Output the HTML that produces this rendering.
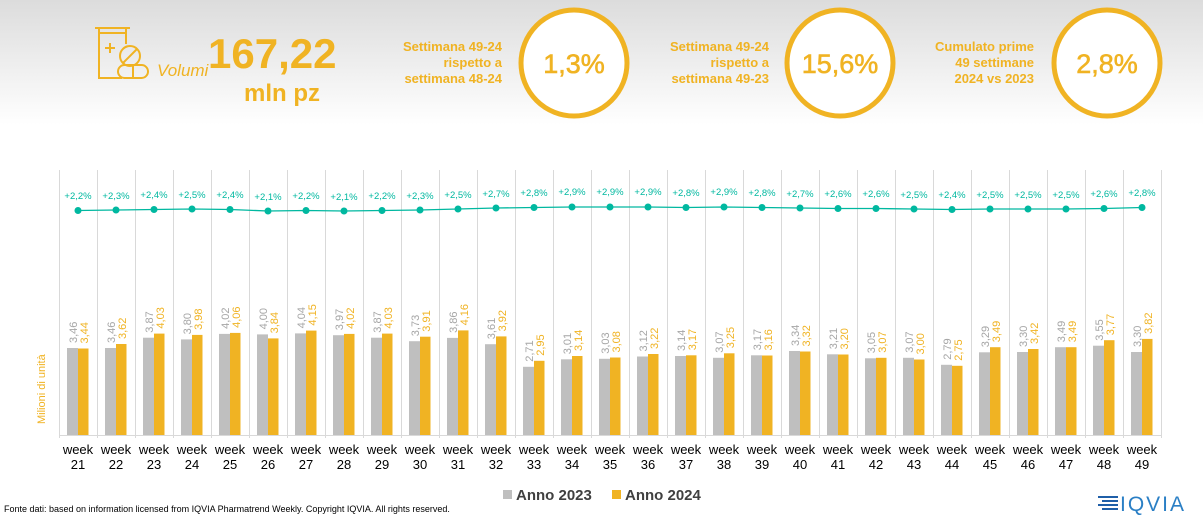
<!DOCTYPE html>
<html><head><meta charset="utf-8"><style>
body{margin:0;width:1203px;height:517px;overflow:hidden;background:#fff;font-family:"Liberation Sans",sans-serif}
</style></head><body>
<svg width="1203" height="517" xmlns="http://www.w3.org/2000/svg" font-family="Liberation Sans, sans-serif">
<defs><linearGradient id="bg" x1="0" y1="0" x2="0" y2="1"><stop offset="0" stop-color="#dcdcdc"/><stop offset="1" stop-color="#ffffff"/></linearGradient></defs>
<rect x="0" y="0" width="1203" height="125" fill="url(#bg)"/>
<g fill="none" stroke="#f0b323" stroke-width="2">
<path d="M95 28 H130 M99 28 V78 H122 M126 28 V44 M99 33 H126"/>
<path d="M105 48 H115 M110 43 V53"/>
<circle cx="130" cy="56" r="10"/><path d="M123 63 L137 49"/>
<rect x="118" y="65" width="30" height="13" rx="6.5"/><path d="M133 65 V78"/>
</g>
<text x="157" y="76" font-size="17" font-style="italic" fill="#f0b323">Volumi</text>
<text x="208" y="68" font-size="42" font-weight="bold" fill="#f0b323">167,22</text>
<text x="282" y="101" font-size="24" font-weight="bold" fill="#f0b323" text-anchor="middle">mln pz</text>
<g font-size="13" font-weight="bold" fill="#f0b323" text-anchor="end">
<text x="502" y="51">Settimana 49-24</text><text x="502" y="67">rispetto a</text><text x="502" y="83">settimana 48-24</text>
<text x="769" y="51">Settimana 49-24</text><text x="769" y="67">rispetto a</text><text x="769" y="83">settimana 49-23</text>
<text x="1034" y="51">Cumulato prime</text><text x="1034" y="67">49 settimane</text><text x="1034" y="83">2024 vs 2023</text>
</g>
<g fill="#fff" stroke="#f0b323" stroke-width="5">
<circle cx="574" cy="63" r="53"/><circle cx="840" cy="63" r="53"/><circle cx="1107" cy="63" r="53"/>
</g>
<g font-size="27" fill="#f0b323" text-anchor="middle" stroke="#f0b323" stroke-width="0.6">
<text x="574" y="73">1,3%</text><text x="840" y="73">15,6%</text><text x="1107" y="73">2,8%</text>
</g>
<g stroke="#d9d9d9" stroke-width="1">
<path d="M59.5 170V438M97.5 170V438M135.5 170V438M173.5 170V438M211.5 170V438M249.5 170V438M287.5 170V438M325.5 170V438M363.5 170V438M401.5 170V438M439.5 170V438M477.5 170V438M515.5 170V438M553.5 170V438M591.5 170V438M629.5 170V438M667.5 170V438M705.5 170V438M743.5 170V438M781.5 170V438M819.5 170V438M857.5 170V438M895.5 170V438M933.5 170V438M971.5 170V438M1009.5 170V438M1047.5 170V438M1085.5 170V438M1123.5 170V438M1161.5 170V438"/>
<path d="M59 435.5H1161"/>
</g>
<g fill="#bfbfbf">
<rect x="67" y="348" width="11" height="87"/><rect x="105" y="348" width="11" height="87"/><rect x="143" y="337.7" width="11" height="97.3"/><rect x="181" y="339.4" width="11" height="95.6"/><rect x="219" y="333.9" width="11" height="101.1"/><rect x="257" y="334.4" width="11" height="100.6"/><rect x="295" y="333.4" width="11" height="101.6"/><rect x="333" y="335.2" width="11" height="99.8"/><rect x="371" y="337.7" width="11" height="97.3"/><rect x="409" y="341.2" width="11" height="93.8"/><rect x="447" y="337.9" width="11" height="97.1"/><rect x="485" y="344.2" width="11" height="90.8"/><rect x="523" y="366.8" width="11" height="68.2"/><rect x="561" y="359.3" width="11" height="75.7"/><rect x="599" y="358.8" width="11" height="76.2"/><rect x="637" y="356.5" width="11" height="78.5"/><rect x="675" y="356" width="11" height="79"/><rect x="713" y="357.8" width="11" height="77.2"/><rect x="751" y="355.3" width="11" height="79.7"/><rect x="789" y="351" width="11" height="84"/><rect x="827" y="354.3" width="11" height="80.7"/><rect x="865" y="358.3" width="11" height="76.7"/><rect x="903" y="357.8" width="11" height="77.2"/><rect x="941" y="364.8" width="11" height="70.2"/><rect x="979" y="352.3" width="11" height="82.7"/><rect x="1017" y="352" width="11" height="83"/><rect x="1055" y="347.2" width="11" height="87.8"/><rect x="1093" y="345.7" width="11" height="89.3"/><rect x="1131" y="352" width="11" height="83"/>
</g>
<g fill="#f0b323">
<rect x="78" y="348.5" width="10.5" height="86.5"/><rect x="116" y="344" width="10.5" height="91"/><rect x="154" y="333.6" width="10.5" height="101.4"/><rect x="192" y="334.9" width="10.5" height="100.1"/><rect x="230" y="332.9" width="10.5" height="102.1"/><rect x="268" y="338.4" width="10.5" height="96.6"/><rect x="306" y="330.6" width="10.5" height="104.4"/><rect x="344" y="333.9" width="10.5" height="101.1"/><rect x="382" y="333.6" width="10.5" height="101.4"/><rect x="420" y="336.7" width="10.5" height="98.3"/><rect x="458" y="330.4" width="10.5" height="104.6"/><rect x="496" y="336.4" width="10.5" height="98.6"/><rect x="534" y="360.8" width="10.5" height="74.2"/><rect x="572" y="356" width="10.5" height="79"/><rect x="610" y="357.5" width="10.5" height="77.5"/><rect x="648" y="354" width="10.5" height="81"/><rect x="686" y="355.3" width="10.5" height="79.7"/><rect x="724" y="353.3" width="10.5" height="81.7"/><rect x="762" y="355.5" width="10.5" height="79.5"/><rect x="800" y="351.5" width="10.5" height="83.5"/><rect x="838" y="354.5" width="10.5" height="80.5"/><rect x="876" y="357.8" width="10.5" height="77.2"/><rect x="914" y="359.5" width="10.5" height="75.5"/><rect x="952" y="365.8" width="10.5" height="69.2"/><rect x="990" y="347.2" width="10.5" height="87.8"/><rect x="1028" y="349" width="10.5" height="86"/><rect x="1066" y="347.2" width="10.5" height="87.8"/><rect x="1104" y="340.2" width="10.5" height="94.8"/><rect x="1142" y="338.9" width="10.5" height="96.1"/>
</g>
<g font-size="11" fill="#a6a6a6">
<text transform="translate(77,343) rotate(-90)">3,46</text><text transform="translate(115,343) rotate(-90)">3,46</text><text transform="translate(153,332.7) rotate(-90)">3,87</text><text transform="translate(191,334.4) rotate(-90)">3,80</text><text transform="translate(229,328.9) rotate(-90)">4,02</text><text transform="translate(267,329.4) rotate(-90)">4,00</text><text transform="translate(305,328.4) rotate(-90)">4,04</text><text transform="translate(343,330.2) rotate(-90)">3,97</text><text transform="translate(381,332.7) rotate(-90)">3,87</text><text transform="translate(419,336.2) rotate(-90)">3,73</text><text transform="translate(457,332.9) rotate(-90)">3,86</text><text transform="translate(495,339.2) rotate(-90)">3,61</text><text transform="translate(533,361.8) rotate(-90)">2,71</text><text transform="translate(571,354.3) rotate(-90)">3,01</text><text transform="translate(609,353.8) rotate(-90)">3,03</text><text transform="translate(647,351.5) rotate(-90)">3,12</text><text transform="translate(685,351) rotate(-90)">3,14</text><text transform="translate(723,352.8) rotate(-90)">3,07</text><text transform="translate(761,350.3) rotate(-90)">3,17</text><text transform="translate(799,346) rotate(-90)">3,34</text><text transform="translate(837,349.3) rotate(-90)">3,21</text><text transform="translate(875,353.3) rotate(-90)">3,05</text><text transform="translate(913,352.8) rotate(-90)">3,07</text><text transform="translate(951,359.8) rotate(-90)">2,79</text><text transform="translate(989,347.3) rotate(-90)">3,29</text><text transform="translate(1027,347) rotate(-90)">3,30</text><text transform="translate(1065,342.2) rotate(-90)">3,49</text><text transform="translate(1103,340.7) rotate(-90)">3,55</text><text transform="translate(1141,347) rotate(-90)">3,30</text>
</g>
<g font-size="11" fill="#f0b323">
<text transform="translate(88,343.5) rotate(-90)">3,44</text><text transform="translate(126,339) rotate(-90)">3,62</text><text transform="translate(164,328.6) rotate(-90)">4,03</text><text transform="translate(202,329.9) rotate(-90)">3,98</text><text transform="translate(240,327.9) rotate(-90)">4,06</text><text transform="translate(278,333.4) rotate(-90)">3,84</text><text transform="translate(316,325.6) rotate(-90)">4,15</text><text transform="translate(354,328.9) rotate(-90)">4,02</text><text transform="translate(392,328.6) rotate(-90)">4,03</text><text transform="translate(430,331.7) rotate(-90)">3,91</text><text transform="translate(468,325.4) rotate(-90)">4,16</text><text transform="translate(506,331.4) rotate(-90)">3,92</text><text transform="translate(544,355.8) rotate(-90)">2,95</text><text transform="translate(582,351) rotate(-90)">3,14</text><text transform="translate(620,352.5) rotate(-90)">3,08</text><text transform="translate(658,349) rotate(-90)">3,22</text><text transform="translate(696,350.3) rotate(-90)">3,17</text><text transform="translate(734,348.3) rotate(-90)">3,25</text><text transform="translate(772,350.5) rotate(-90)">3,16</text><text transform="translate(810,346.5) rotate(-90)">3,32</text><text transform="translate(848,349.5) rotate(-90)">3,20</text><text transform="translate(886,352.8) rotate(-90)">3,07</text><text transform="translate(924,354.5) rotate(-90)">3,00</text><text transform="translate(962,360.8) rotate(-90)">2,75</text><text transform="translate(1000,342.2) rotate(-90)">3,49</text><text transform="translate(1038,344) rotate(-90)">3,42</text><text transform="translate(1076,342.2) rotate(-90)">3,49</text><text transform="translate(1114,335.2) rotate(-90)">3,77</text><text transform="translate(1152,333.9) rotate(-90)">3,82</text>
</g>
<polyline fill="none" stroke="#00b8a0" stroke-width="1.3" points="78,210.5 116,210 154,209.5 192,209 230,209.5 268,211 306,210.5 344,211 382,210.5 420,210 458,209 496,208 534,207.5 572,207 610,207 648,207 686,207.5 724,207 762,207.5 800,208 838,208.5 876,208.5 914,209 952,209.5 990,209 1028,209 1066,209 1104,208.5 1142,207.5"/>
<g fill="#00b8a0">
<circle cx="78" cy="210.5" r="3.5"/><circle cx="116" cy="210" r="3.5"/><circle cx="154" cy="209.5" r="3.5"/><circle cx="192" cy="209" r="3.5"/><circle cx="230" cy="209.5" r="3.5"/><circle cx="268" cy="211" r="3.5"/><circle cx="306" cy="210.5" r="3.5"/><circle cx="344" cy="211" r="3.5"/><circle cx="382" cy="210.5" r="3.5"/><circle cx="420" cy="210" r="3.5"/><circle cx="458" cy="209" r="3.5"/><circle cx="496" cy="208" r="3.5"/><circle cx="534" cy="207.5" r="3.5"/><circle cx="572" cy="207" r="3.5"/><circle cx="610" cy="207" r="3.5"/><circle cx="648" cy="207" r="3.5"/><circle cx="686" cy="207.5" r="3.5"/><circle cx="724" cy="207" r="3.5"/><circle cx="762" cy="207.5" r="3.5"/><circle cx="800" cy="208" r="3.5"/><circle cx="838" cy="208.5" r="3.5"/><circle cx="876" cy="208.5" r="3.5"/><circle cx="914" cy="209" r="3.5"/><circle cx="952" cy="209.5" r="3.5"/><circle cx="990" cy="209" r="3.5"/><circle cx="1028" cy="209" r="3.5"/><circle cx="1066" cy="209" r="3.5"/><circle cx="1104" cy="208.5" r="3.5"/><circle cx="1142" cy="207.5" r="3.5"/>
</g>
<g font-size="9.5" fill="#00b8a0" text-anchor="middle">
<text x="78" y="199">+2,2%</text><text x="116" y="199">+2,3%</text><text x="154" y="198">+2,4%</text><text x="192" y="198">+2,5%</text><text x="230" y="198">+2,4%</text><text x="268" y="200">+2,1%</text><text x="306" y="199">+2,2%</text><text x="344" y="200">+2,1%</text><text x="382" y="199">+2,2%</text><text x="420" y="199">+2,3%</text><text x="458" y="198">+2,5%</text><text x="496" y="197">+2,7%</text><text x="534" y="196">+2,8%</text><text x="572" y="195">+2,9%</text><text x="610" y="195">+2,9%</text><text x="648" y="195">+2,9%</text><text x="686" y="196">+2,8%</text><text x="724" y="195">+2,9%</text><text x="762" y="196">+2,8%</text><text x="800" y="197">+2,7%</text><text x="838" y="197">+2,6%</text><text x="876" y="197">+2,6%</text><text x="914" y="198">+2,5%</text><text x="952" y="198">+2,4%</text><text x="990" y="198">+2,5%</text><text x="1028" y="198">+2,5%</text><text x="1066" y="198">+2,5%</text><text x="1104" y="197">+2,6%</text><text x="1142" y="196">+2,8%</text>
</g>
<g font-size="13" fill="#000" text-anchor="middle">
<text x="78" y="454">week</text><text x="116" y="454">week</text><text x="154" y="454">week</text><text x="192" y="454">week</text><text x="230" y="454">week</text><text x="268" y="454">week</text><text x="306" y="454">week</text><text x="344" y="454">week</text><text x="382" y="454">week</text><text x="420" y="454">week</text><text x="458" y="454">week</text><text x="496" y="454">week</text><text x="534" y="454">week</text><text x="572" y="454">week</text><text x="610" y="454">week</text><text x="648" y="454">week</text><text x="686" y="454">week</text><text x="724" y="454">week</text><text x="762" y="454">week</text><text x="800" y="454">week</text><text x="838" y="454">week</text><text x="876" y="454">week</text><text x="914" y="454">week</text><text x="952" y="454">week</text><text x="990" y="454">week</text><text x="1028" y="454">week</text><text x="1066" y="454">week</text><text x="1104" y="454">week</text><text x="1142" y="454">week</text>
<text x="78" y="469">21</text><text x="116" y="469">22</text><text x="154" y="469">23</text><text x="192" y="469">24</text><text x="230" y="469">25</text><text x="268" y="469">26</text><text x="306" y="469">27</text><text x="344" y="469">28</text><text x="382" y="469">29</text><text x="420" y="469">30</text><text x="458" y="469">31</text><text x="496" y="469">32</text><text x="534" y="469">33</text><text x="572" y="469">34</text><text x="610" y="469">35</text><text x="648" y="469">36</text><text x="686" y="469">37</text><text x="724" y="469">38</text><text x="762" y="469">39</text><text x="800" y="469">40</text><text x="838" y="469">41</text><text x="876" y="469">42</text><text x="914" y="469">43</text><text x="952" y="469">44</text><text x="990" y="469">45</text><text x="1028" y="469">46</text><text x="1066" y="469">47</text><text x="1104" y="469">48</text><text x="1142" y="469">49</text>
</g>
<text transform="translate(45,424) rotate(-90)" font-size="11" fill="#f0b323">Milioni di unità</text>
<rect x="503" y="490" width="9" height="9" fill="#bfbfbf"/>
<text x="516" y="500" font-size="15" fill="#404040" font-weight="bold">Anno 2023</text>
<rect x="612" y="490" width="9" height="9" fill="#f0b323"/>
<text x="625" y="500" font-size="15" fill="#404040" font-weight="bold">Anno 2024</text>
<text x="4" y="512" font-size="9" fill="#000">Fonte dati: based on information licensed from IQVIA Pharmatrend Weekly. Copyright IQVIA. All rights reserved.</text>
<g stroke="#1f5fa8" stroke-width="2"><path d="M1098 497H1118M1102 501H1118M1098 505H1118M1102 509H1118"/></g>
<text x="1120" y="511" font-size="21" fill="#2a7fc5" letter-spacing="2">IQVIA</text>
</svg>
</body></html>
